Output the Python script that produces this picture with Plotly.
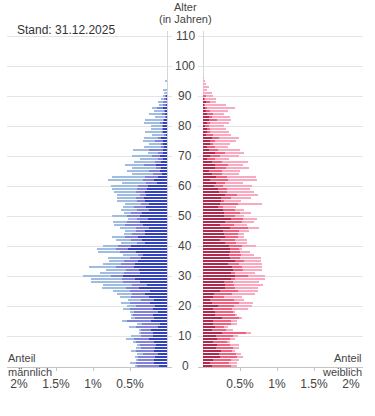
import plotly.graph_objects as go

ages = list(range(0, 97))

male_dark = [0.108, 0.176, 0.176, 0.162, 0.117, 0.176, 0.162, 0.149, 0.176, 0.243,
             0.185, 0.185, 0.216, 0.117, 0.095, 0.216, 0.176, 0.185, 0.117, 0.194,
             0.162, 0.230, 0.176, 0.243, 0.297, 0.230, 0.378, 0.275, 0.365, 0.432,
             0.599, 0.365, 0.378, 0.441, 0.432, 0.387, 0.356, 0.320, 0.419, 0.523,
             0.486, 0.297, 0.342, 0.396, 0.297, 0.297, 0.243, 0.320, 0.365, 0.261,
             0.365, 0.342, 0.243, 0.284, 0.243, 0.297, 0.306, 0.284, 0.297, 0.275,
             0.261, 0.140, 0.176, 0.126, 0.063, 0.095, 0.081, 0.144, 0.081, 0.054,
             0.090, 0.054, 0.054, 0.045, 0.054, 0.054, 0.081, 0.018, 0.054, 0.054,
             0.054, 0.050, 0.036, 0.014, 0.027, 0.027, 0.050, 0.018, 0.0, 0.018,
             0.014, 0.0, 0.0, 0.0, 0.0, 0.0, 0.0]
male_mid = [0.297, 0.243, 0.221, 0.234, 0.203, 0.243, 0.194, 0.216, 0.243, 0.198,
            0.167, 0.167, 0.135, 0.306, 0.248, 0.329, 0.257, 0.270, 0.324, 0.306,
            0.257, 0.270, 0.176, 0.243, 0.171, 0.270, 0.176, 0.203, 0.234, 0.180,
            0.158, 0.212, 0.176, 0.248, 0.189, 0.189, 0.144, 0.077, 0.216, 0.171,
            0.180, 0.113, 0.144, 0.171, 0.171, 0.122, 0.176, 0.248, 0.180, 0.140,
            0.171, 0.149, 0.167, 0.158, 0.113, 0.113, 0.113, 0.081, 0.122, 0.135,
            0.126, 0.144, 0.144, 0.171, 0.131, 0.149, 0.068, 0.167, 0.081, 0.063,
            0.108, 0.063, 0.189, 0.036, 0.032, 0.108, 0.036, 0.018, 0.009, 0.009,
            0.009, 0.045, 0.023, 0.014, 0.036, 0.009, 0.086, 0.032, 0.054, 0.018,
            0.014, 0.0, 0.0, 0.0, 0.0, 0.0, 0.0]
male_light = [0.027, 0.081, 0.023, 0.036, 0.090, 0.068, 0.063, 0.045, 0.045, 0.117,
              0.135, 0.027, 0.027, 0.090, 0.068, 0.068, 0.054, 0.032, 0.059, 0.099,
              0.126, 0.122, 0.171, 0.149, 0.212, 0.225, 0.329, 0.383, 0.428, 0.414,
              0.378, 0.329, 0.270, 0.365, 0.248, 0.207, 0.302, 0.203, 0.302, 0.257,
              0.203, 0.212, 0.207, 0.180, 0.108, 0.149, 0.216, 0.149, 0.189, 0.131,
              0.212, 0.086, 0.212, 0.149, 0.212, 0.270, 0.261, 0.315, 0.293, 0.329,
              0.369, 0.329, 0.482, 0.450, 0.284, 0.302, 0.329, 0.257, 0.279, 0.248,
              0.270, 0.135, 0.216, 0.230, 0.158, 0.162, 0.194, 0.162, 0.234, 0.153,
              0.153, 0.216, 0.239, 0.135, 0.180, 0.140, 0.068, 0.054, 0.072, 0.045,
              0.032, 0.045, 0.054, 0.0, 0.0, 0.032, 0.0]

female_dark = [0.122, 0.095, 0.135, 0.230, 0.216, 0.243, 0.176, 0.189, 0.135, 0.189,
               0.176, 0.257, 0.122, 0.162, 0.135, 0.135, 0.257, 0.162, 0.162, 0.135,
               0.203, 0.122, 0.095, 0.135, 0.149, 0.230, 0.297, 0.297, 0.284, 0.378,
               0.432, 0.374, 0.405, 0.392, 0.338, 0.432, 0.365, 0.351, 0.365, 0.365,
               0.351, 0.297, 0.230, 0.297, 0.284, 0.270, 0.365, 0.230, 0.297, 0.378,
               0.284, 0.284, 0.270, 0.203, 0.230, 0.243, 0.243, 0.297, 0.216, 0.203,
               0.149, 0.176, 0.095, 0.176, 0.122, 0.081, 0.162, 0.162, 0.122, 0.054,
               0.095, 0.162, 0.081, 0.054, 0.095, 0.095, 0.122, 0.041, 0.054, 0.054,
               0.027, 0.054, 0.081, 0.081, 0.054, 0.041, 0.027, 0.014, 0.041, 0.014,
               0.0, 0.0, 0.0, 0.0, 0.0, 0.0, 0.0]
female_mid = [0.257, 0.257, 0.243, 0.230, 0.230, 0.149, 0.230, 0.176, 0.189, 0.176,
              0.230, 0.324, 0.189, 0.122, 0.243, 0.243, 0.230, 0.270, 0.243, 0.257,
              0.216, 0.365, 0.324, 0.149, 0.243, 0.239, 0.135, 0.122, 0.122, 0.054,
              0.171, 0.059, 0.135, 0.135, 0.149, 0.122, 0.135, 0.162, 0.135, 0.122,
              0.176, 0.149, 0.203, 0.176, 0.189, 0.216, 0.243, 0.189, 0.230, 0.162,
              0.149, 0.216, 0.162, 0.068, 0.243, 0.041, 0.135, 0.162, 0.108, 0.122,
              0.122, 0.122, 0.243, 0.149, 0.135, 0.176, 0.149, 0.176, 0.135, 0.108,
              0.135, 0.135, 0.122, 0.108, 0.041, 0.068, 0.095, 0.095, 0.041, 0.041,
              0.054, 0.041, 0.108, 0.041, 0.081, 0.054, 0.027, 0.014, 0.054, 0.014,
              0.041, 0.0, 0.0, 0.0, 0.0, 0.0, 0.0]
female_light = [0.081, 0.108, 0.108, 0.081, 0.068, 0.041, 0.081, 0.122, 0.041, 0.068,
                0.068, 0.068, 0.095, 0.054, 0.081, 0.081, 0.041, 0.027, 0.027, 0.216,
                0.243, 0.185, 0.135, 0.243, 0.311, 0.275, 0.311, 0.392, 0.351, 0.405,
                0.234, 0.270, 0.257, 0.270, 0.311, 0.230, 0.284, 0.176, 0.135, 0.041,
                0.189, 0.149, 0.162, 0.081, 0.081, 0.135, 0.149, 0.176, 0.162, 0.189,
                0.122, 0.149, 0.122, 0.176, 0.324, 0.230, 0.270, 0.284, 0.365, 0.311,
                0.392, 0.243, 0.392, 0.392, 0.230, 0.243, 0.311, 0.203, 0.351, 0.189,
                0.257, 0.257, 0.297, 0.176, 0.230, 0.284, 0.270, 0.243, 0.257, 0.216,
                0.203, 0.257, 0.189, 0.243, 0.149, 0.243, 0.378, 0.284, 0.081, 0.149,
                0.095, 0.122, 0.059, 0.081, 0.041, 0.027, 0.009]

age_ticks = [0, 10, 20, 30, 40, 50, 60, 70, 80, 90, 100, 110]
share_ticks = [0.5, 1.0, 1.5, 2.0]
share_labels = ["0.5%", "1%", "1.5%", "2%"]

male_colors = ["#3343bf", "#8282da", "#9fbde3"]
female_colors = ["#b02a4e", "#f0607f", "#f9a9c0"]

FONT = "Liberation Sans, Arial, sans-serif"
W, H = 375, 416

def px(x):
    return x / W

def py(y):
    return 1 - y / H

fig = go.Figure()
for vals, col in zip([male_dark, male_mid, male_light], male_colors):
    fig.add_trace(go.Bar(y=ages, x=vals, orientation="h", marker=dict(color=col, line=dict(width=0)),
                         xaxis="x", yaxis="y", showlegend=False, hoverinfo="skip"))
for vals, col in zip([female_dark, female_mid, female_light], female_colors):
    fig.add_trace(go.Bar(y=ages, x=vals, orientation="h", marker=dict(color=col, line=dict(width=0)),
                         xaxis="x2", yaxis="y2", showlegend=False, hoverinfo="skip"))

scale = 74.0
ext = 5 / scale
xmax_left = (167 - 7) / scale
xmax_right = (363 - 203) / scale
ydom = [py(367), py(31)]
yrange = [-0.3, 111.7]

common_x = dict(showgrid=False, zeroline=True, zerolinecolor="#d6d6d6", zerolinewidth=1,
                showline=True, linecolor="#c4c4c4", linewidth=1,
                ticks="outside", ticklen=3, tickcolor="#c4c4c4",
                tickvals=share_ticks, ticktext=share_labels,
                tickfont=dict(family=FONT, size=12, color="#444"), ticklabelstandoff=3)
common_y = dict(range=yrange, domain=ydom, showgrid=True, gridcolor="#e4e4e4", gridwidth=1,
                tickvals=age_ticks, showticklabels=False, zeroline=False, ticks="")

fig.update_layout(
    width=W, height=H, margin=dict(l=0, r=0, t=0, b=0),
    paper_bgcolor="white", plot_bgcolor="white",
    barmode="stack", bargap=0.33,
    xaxis=dict(domain=[px(7), px(172)], range=[xmax_left, -ext], anchor="y", **common_x),
    xaxis2=dict(domain=[px(198), px(363)], range=[-ext, xmax_right], anchor="y2", **common_x),
    yaxis=dict(anchor="x", **common_y),
    yaxis2=dict(anchor="x2", **common_y),
)

annotations = []
for t in age_ticks:
    annotations.append(dict(x=px(185), xref="paper", y=t, yref="y", text=str(t), showarrow=False,
                            xanchor="center", yanchor="middle",
                            font=dict(family=FONT, size=12, color="#444")))
extra = [
    dict(x=px(15), y=py(30), text="Stand: 31.12.2025", xanchor="left", yanchor="middle",
         font=dict(family=FONT, size=12, color="#333")),
    dict(x=px(185), y=py(7), text="Alter", xanchor="center", yanchor="middle",
         font=dict(family=FONT, size=11, color="#444")),
    dict(x=px(185), y=py(18.5), text="(in Jahren)", xanchor="center", yanchor="middle",
         font=dict(family=FONT, size=11, color="#444")),
    dict(x=px(6), y=py(357.5), text="Anteil", xanchor="left", yanchor="middle",
         font=dict(family=FONT, size=11, color="#444")),
    dict(x=px(6), y=py(372), text="männlich", xanchor="left", yanchor="middle",
         font=dict(family=FONT, size=11, color="#444")),
    dict(x=px(364), y=py(357.5), text="Anteil", xanchor="right", yanchor="middle",
         font=dict(family=FONT, size=11, color="#444")),
    dict(x=px(364), y=py(372), text="weiblich", xanchor="right", yanchor="middle",
         font=dict(family=FONT, size=11, color="#444")),
]
for a in extra:
    a.update(xref="paper", yref="paper", showarrow=False)
fig.update_layout(annotations=annotations + extra)

fig.write_html("out.html", config={"displayModeBar": False, "staticPlot": True},
               post_script="document.body.style.margin='0px';")
